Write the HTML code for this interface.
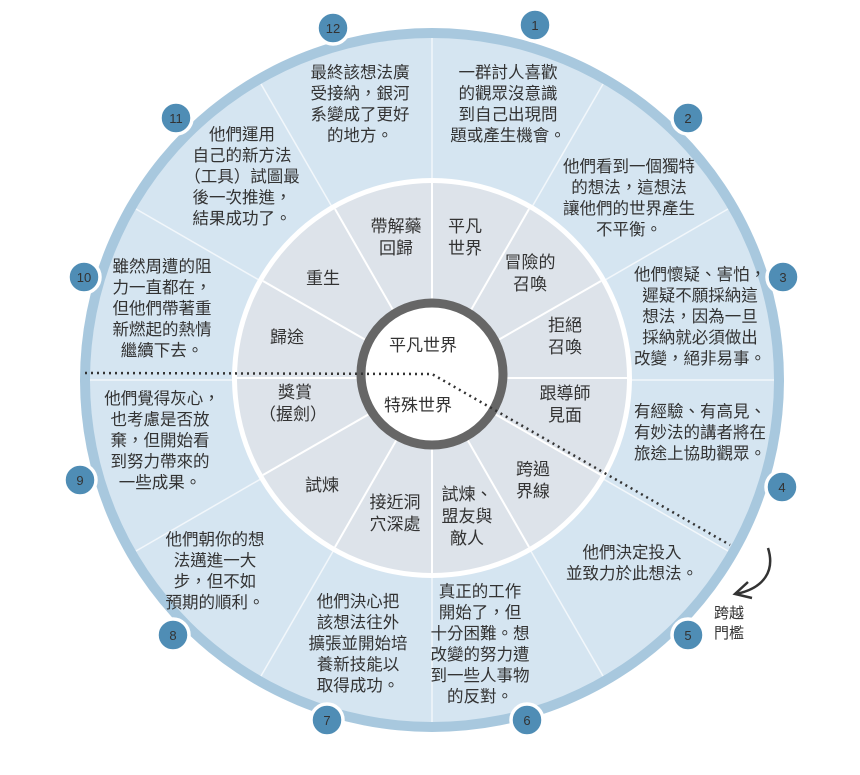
<!DOCTYPE html>
<html><head><meta charset="utf-8"><style>
body{margin:0;background:#fff}
svg text{font-family:"Liberation Sans","Noto Sans CJK TC",sans-serif;fill:#333}
</style></head><body>
<svg width="860" height="770" viewBox="0 0 860 770" xmlns="http://www.w3.org/2000/svg">
<circle cx="432" cy="380" r="352" fill="#a8c8de"/>
<circle cx="432" cy="380" r="342" fill="#d5e5f1"/>
<g stroke="#f2f7fb" stroke-width="1.5">
<line x1="432" y1="38" x2="432" y2="722"/>
<line x1="90" y1="380" x2="774" y2="380"/>
<line x1="603" y1="84" x2="261" y2="676"/>
<line x1="728" y1="209" x2="136" y2="551"/>
<line x1="261" y1="84" x2="603" y2="676"/>
<line x1="136" y1="209" x2="728" y2="551"/>
</g>
<circle cx="432" cy="378" r="200" fill="#fff"/>
<circle cx="432" cy="378" r="195" fill="#dde3ea"/>
<g stroke="#fff" stroke-width="2">
<line x1="432" y1="183" x2="432" y2="573"/>
<line x1="237" y1="378" x2="627" y2="378"/>
<line x1="529" y1="209" x2="335" y2="547"/>
<line x1="601" y1="281" x2="263" y2="475"/>
<line x1="335" y1="209" x2="529" y2="547"/>
<line x1="263" y1="281" x2="601" y2="475"/>
</g>
<circle cx="432" cy="374" r="71" fill="#fff" stroke="#666" stroke-width="9"/>
<polyline points="85,373 432,374 730,545" fill="none" stroke="#333" stroke-width="2.5" stroke-dasharray="2,4"/>
<g font-size="17" text-anchor="middle">
<text x="423" y="351">平凡世界</text>
<text x="418" y="411">特殊世界</text>
<text x="396" y="232">帶解藥<tspan x="396" dy="22">回歸</tspan></text>
<text x="465" y="232">平凡<tspan x="465" dy="22">世界</tspan></text>
<text x="530" y="268">冒險的<tspan x="530" dy="22">召喚</tspan></text>
<text x="565" y="331">拒絕<tspan x="565" dy="22">召喚</tspan></text>
<text x="565" y="399">跟導師<tspan x="565" dy="22">見面</tspan></text>
<text x="533" y="475">跨過<tspan x="533" dy="22">界線</tspan></text>
<text x="467" y="500">試煉、<tspan x="467" dy="22">盟友與</tspan><tspan x="467" dy="22">敵人</tspan></text>
<text x="395" y="508">接近洞<tspan x="395" dy="22">穴深處</tspan></text>
<text x="322" y="491">試煉</text>
<text x="295" y="398">獎賞<tspan x="293" dy="22">（握劍）</tspan></text>
<text x="287" y="343">歸途</text>
<text x="323" y="284">重生</text>
</g>
<g font-size="16.5" text-anchor="middle">
<text x="508" y="78">一群討人喜歡<tspan x="508" dy="21">的觀眾沒意識</tspan><tspan x="508" dy="21">到自己出現問</tspan><tspan x="508" dy="21">題或產生機會。</tspan></text>
<text x="629" y="172">他們看到一個獨特<tspan x="629" dy="21">的想法，這想法</tspan><tspan x="629" dy="21">讓他們的世界產生</tspan><tspan x="629" dy="21">不平衡。</tspan></text>
<text x="700" y="280">他們懷疑、害怕，<tspan x="700" dy="21">遲疑不願採納這</tspan><tspan x="700" dy="21">想法，因為一旦</tspan><tspan x="700" dy="21">採納就必須做出</tspan><tspan x="700" dy="21">改變，絕非易事。</tspan></text>
<text x="700" y="417">有經驗、有高見、<tspan x="700" dy="21">有妙法的講者將在</tspan><tspan x="700" dy="21">旅途上協助觀眾。</tspan></text>
<text x="632" y="558">他們決定投入<tspan x="632" dy="21">並致力於此想法。</tspan></text>
<text x="480" y="597">真正的工作<tspan x="480" dy="21">開始了，但</tspan><tspan x="480" dy="21">十分困難。想</tspan><tspan x="480" dy="21">改變的努力遭</tspan><tspan x="480" dy="21">到一些人事物</tspan><tspan x="480" dy="21">的反對。</tspan></text>
<text x="358" y="607">他們決心把<tspan x="358" dy="21">該想法往外</tspan><tspan x="358" dy="21">擴張並開始培</tspan><tspan x="358" dy="21">養新技能以</tspan><tspan x="358" dy="21">取得成功。</tspan></text>
<text x="215" y="545">他們朝你的想<tspan x="215" dy="21">法邁進一大</tspan><tspan x="215" dy="21">步，但不如</tspan><tspan x="215" dy="21">預期的順利。</tspan></text>
<text x="162" y="404">他們覺得灰心，<tspan x="160" dy="21">也考慮是否放</tspan><tspan x="160" dy="21">棄，但開始看</tspan><tspan x="160" dy="21">到努力帶來的</tspan><tspan x="160" dy="21">一些成果。</tspan></text>
<text x="162" y="272">雖然周遭的阻<tspan x="162" dy="21">力一直都在，</tspan><tspan x="162" dy="21">但他們帶著重</tspan><tspan x="162" dy="21">新燃起的熱情</tspan><tspan x="162" dy="21">繼續下去。</tspan></text>
<text x="242" y="140">他們運用<tspan x="242" dy="21">自己的新方法</tspan><tspan x="242" dy="21">（工具）試圖最</tspan><tspan x="242" dy="21">後一次推進，</tspan><tspan x="242" dy="21">結果成功了。</tspan></text>
<text x="360" y="78">最終該想法廣<tspan x="360" dy="21">受接納，銀河</tspan><tspan x="360" dy="21">系變成了更好</tspan><tspan x="360" dy="21">的地方。</tspan></text>
</g>
<g stroke="#fff" stroke-width="3.5" fill="#4f8db5">
<circle cx="333" cy="28" r="16"/><circle cx="535" cy="25" r="16"/>
<circle cx="688" cy="118" r="16"/><circle cx="783" cy="277" r="16"/>
<circle cx="782" cy="487" r="16"/><circle cx="688" cy="635" r="16"/>
<circle cx="527" cy="720" r="16"/><circle cx="327" cy="720" r="16"/>
<circle cx="173" cy="635" r="16"/><circle cx="80" cy="480" r="16"/>
<circle cx="84" cy="277" r="16"/><circle cx="176" cy="118" r="16"/>
</g>
<g font-size="13" text-anchor="middle" style="fill:#fff">
<text x="333" y="33" fill="#fff">12</text><text x="535" y="30" fill="#fff">1</text>
<text x="688" y="123" fill="#fff">2</text><text x="783" y="282" fill="#fff">3</text>
<text x="782" y="492" fill="#fff">4</text><text x="688" y="640" fill="#fff">5</text>
<text x="527" y="725" fill="#fff">6</text><text x="327" y="725" fill="#fff">7</text>
<text x="173" y="640" fill="#fff">8</text><text x="80" y="485" fill="#fff">9</text>
<text x="84" y="282" fill="#fff">10</text><text x="176" y="123" fill="#fff">11</text>
</g>
<path d="M768,548 C775,570 765,588 736,594" fill="none" stroke="#333" stroke-width="2.5"/>
<path d="M748,582 L735,594 L752,598" fill="none" stroke="#333" stroke-width="2.5"/>
<g font-size="15" text-anchor="middle">
<text x="729" y="618">跨越<tspan x="729" dy="20">門檻</tspan></text>
</g>
</svg>
</body></html>
